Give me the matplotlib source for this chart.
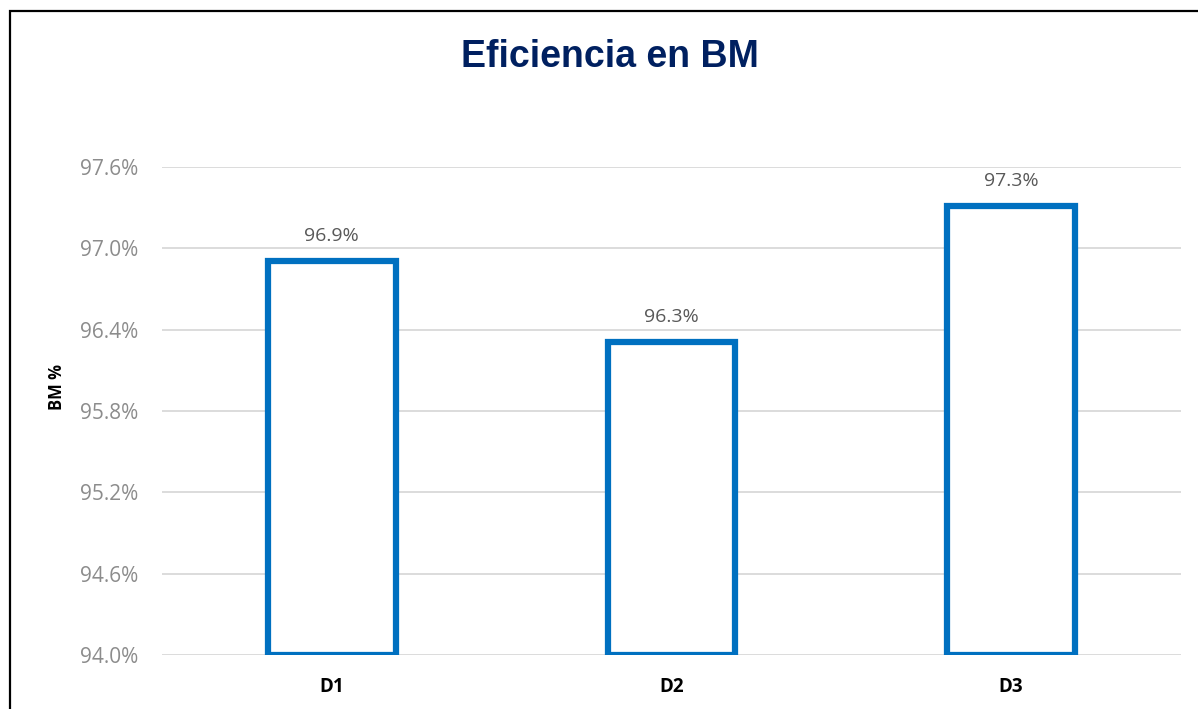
import matplotlib.pyplot as plt
from matplotlib.patches import Rectangle
from matplotlib.ticker import FuncFormatter

categories = ["D1", "D2", "D3"]
values = [96.91, 96.31, 97.31]
y_ticks = [94.0, 94.6, 95.2, 95.8, 96.4, 97.0, 97.6]

BLUE = "#0070C0"
NAVY = "#002060"
FONT = "Open Sans"

fig = plt.figure(figsize=(11.98, 7.09), dpi=100)
ax = fig.add_axes([162 / 1198, 1 - 655 / 709, (1181 - 162) / 1198, (655 - 167) / 709])

# outer chart frame (only left and top are visible in the crop)
fig.patches.append(Rectangle((9.5 / 1198, -0.1), 1.2, (709 - 10.5) / 709 + 0.1,
                             transform=fig.transFigure, fill=False,
                             edgecolor="black", linewidth=1.6))

x = range(len(categories))
ax.bar(x, [v - y_ticks[0] for v in values], bottom=y_ticks[0], width=0.376,
       facecolor="white", edgecolor=BLUE, linewidth=4.5, zorder=3)

for xi, v in zip(x, values):
    ax.annotate(f"{v:.1f}%", (xi, v), xytext=(0, 18), textcoords="offset points",
                ha="center", va="center", fontsize=14, color="#595959",
                family=FONT)

ax.set_xlim(-0.5, 2.5)
ax.set_ylim(y_ticks[0], y_ticks[-1])
ax.set_yticks(y_ticks)
ax.yaxis.set_major_formatter(FuncFormatter(lambda v, p: f"{v:.1f}%"))
ax.grid(axis="y", color="#D9D9D9", linewidth=1.3, zorder=0)
ax.set_xticks(list(x))
ax.set_xticklabels(categories, fontsize=13.5, fontweight="bold", family=FONT)
ax.tick_params(axis="both", length=0)
ax.tick_params(axis="y", labelsize=15, labelcolor="#8C8C8C", pad=17)
ax.tick_params(axis="x", pad=16)
for lbl in ax.get_yticklabels():
    lbl.set_family(FONT)
for s in ax.spines.values():
    s.set_visible(False)

ax.set_ylabel("BM %", fontsize=12, fontweight="bold", family=FONT, labelpad=0)
ax.yaxis.set_label_coords(-96 / 1019, 0.55)

fig.text(610 / 1198, 1 - 57 / 709, "Eficiencia en BM", ha="center", va="center",
         fontsize=27, fontweight="bold", color=NAVY,
         family=["Liberation Sans Narrow", "Liberation Sans"])

fig.savefig("out.png", dpi=100)
